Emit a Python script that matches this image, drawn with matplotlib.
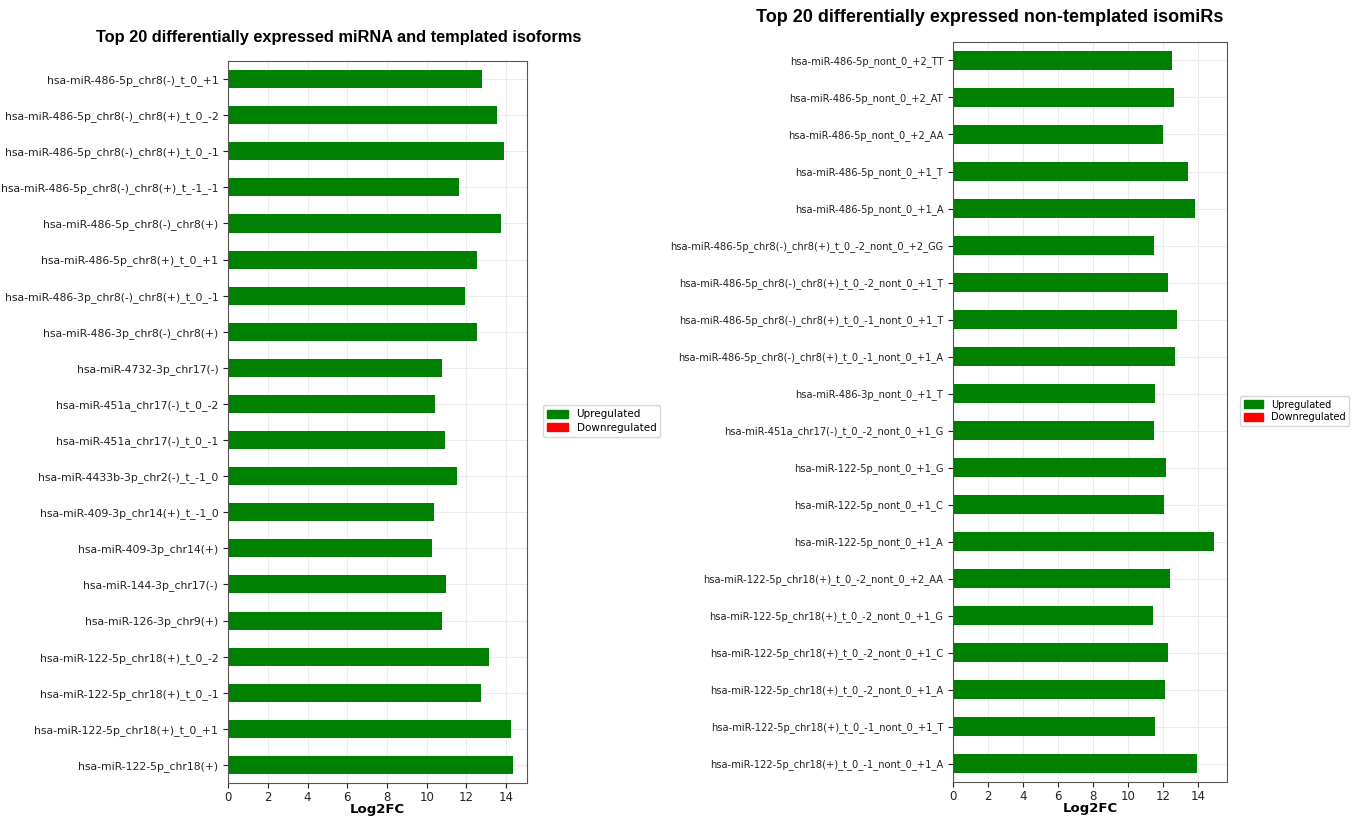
import matplotlib
matplotlib.use('Agg')
import matplotlib.pyplot as plt
from matplotlib.patches import Patch

# left panel, listed top to bottom as in the picture
left_labels = [
    'hsa-miR-486-5p_chr8(-)_t_0_+1',
    'hsa-miR-486-5p_chr8(-)_chr8(+)_t_0_-2',
    'hsa-miR-486-5p_chr8(-)_chr8(+)_t_0_-1',
    'hsa-miR-486-5p_chr8(-)_chr8(+)_t_-1_-1',
    'hsa-miR-486-5p_chr8(-)_chr8(+)',
    'hsa-miR-486-5p_chr8(+)_t_0_+1',
    'hsa-miR-486-3p_chr8(-)_chr8(+)_t_0_-1',
    'hsa-miR-486-3p_chr8(-)_chr8(+)',
    'hsa-miR-4732-3p_chr17(-)',
    'hsa-miR-451a_chr17(-)_t_0_-2',
    'hsa-miR-451a_chr17(-)_t_0_-1',
    'hsa-miR-4433b-3p_chr2(-)_t_-1_0',
    'hsa-miR-409-3p_chr14(+)_t_-1_0',
    'hsa-miR-409-3p_chr14(+)',
    'hsa-miR-144-3p_chr17(-)',
    'hsa-miR-126-3p_chr9(+)',
    'hsa-miR-122-5p_chr18(+)_t_0_-2',
    'hsa-miR-122-5p_chr18(+)_t_0_-1',
    'hsa-miR-122-5p_chr18(+)_t_0_+1',
    'hsa-miR-122-5p_chr18(+)',
]
left_values = [12.80, 13.55, 13.87, 11.60, 13.75, 12.54, 11.92, 12.54, 10.78, 10.42,
               10.90, 11.50, 10.35, 10.26, 10.99, 10.76, 13.15, 12.75, 14.24, 14.33]

# right panel, top to bottom
right_labels = [
    'hsa-miR-486-5p_nont_0_+2_TT',
    'hsa-miR-486-5p_nont_0_+2_AT',
    'hsa-miR-486-5p_nont_0_+2_AA',
    'hsa-miR-486-5p_nont_0_+1_T',
    'hsa-miR-486-5p_nont_0_+1_A',
    'hsa-miR-486-5p_chr8(-)_chr8(+)_t_0_-2_nont_0_+2_GG',
    'hsa-miR-486-5p_chr8(-)_chr8(+)_t_0_-2_nont_0_+1_T',
    'hsa-miR-486-5p_chr8(-)_chr8(+)_t_0_-1_nont_0_+1_T',
    'hsa-miR-486-5p_chr8(-)_chr8(+)_t_0_-1_nont_0_+1_A',
    'hsa-miR-486-3p_nont_0_+1_T',
    'hsa-miR-451a_chr17(-)_t_0_-2_nont_0_+1_G',
    'hsa-miR-122-5p_nont_0_+1_G',
    'hsa-miR-122-5p_nont_0_+1_C',
    'hsa-miR-122-5p_nont_0_+1_A',
    'hsa-miR-122-5p_chr18(+)_t_0_-2_nont_0_+2_AA',
    'hsa-miR-122-5p_chr18(+)_t_0_-2_nont_0_+1_G',
    'hsa-miR-122-5p_chr18(+)_t_0_-2_nont_0_+1_C',
    'hsa-miR-122-5p_chr18(+)_t_0_-2_nont_0_+1_A',
    'hsa-miR-122-5p_chr18(+)_t_0_-1_nont_0_+1_T',
    'hsa-miR-122-5p_chr18(+)_t_0_-1_nont_0_+1_A',
]
right_values = [12.48, 12.58, 11.97, 13.42, 13.82, 11.49, 12.25, 12.76, 12.66, 11.54,
                11.46, 12.17, 12.05, 14.89, 12.38, 11.38, 12.27, 12.12, 11.54, 13.93]

legend_names = ['Upregulated', 'Downregulated']
legend_colors = ['green', 'red']

fig = plt.figure(figsize=(13.58, 8.17), dpi=100)


def panel(rect, labels, values, fs):
    ax = fig.add_axes(rect)
    ax.barh(labels[::-1], values[::-1], height=0.5, color='green', zorder=2)
    ax.set_ylim(-0.5, len(labels) - 0.5)
    ax.set_xticks(range(0, 16, 2))
    ax.grid(True, color='#ebebeb', linewidth=0.8, zorder=0)
    ax.tick_params(axis='y', labelsize=fs, colors='#222222')
    ax.tick_params(axis='x', labelsize=8.5, colors='#222222', pad=2.5)
    for s in ax.spines.values():
        s.set_color('#555555')
    ax.set_xlabel('Log2FC', fontsize=9.5, fontweight='bold', labelpad=-1)
    return ax


ax1 = panel([0.1679, 0.0416, 0.2202, 0.8837], left_labels, left_values, 7.8)
ax2 = panel([0.7018, 0.0428, 0.2018, 0.9058], right_labels, right_values, 7.1)

fig.text(0.2496, 0.9535, 'Top 20 differentially expressed miRNA and templated isoforms',
         ha='center', va='center', fontsize=11.75, fontweight='bold', family='Liberation Sans')
fig.text(0.729, 0.978, 'Top 20 differentially expressed non-templated isomiRs',
         ha='center', va='center', fontsize=13, fontweight='bold', family='Liberation Sans')

handles = [Patch(color=c, label=n) for n, c in zip(legend_names, legend_colors)]
fig.legend(handles=handles, loc='center left', bbox_to_anchor=(538 / 1358, 1 - 421 / 817),
           fontsize=7.5, handlelength=2, handleheight=0.9, borderpad=0.4, labelspacing=0.3)
fig.legend(handles=handles, loc='center left', bbox_to_anchor=(1235 / 1358, 1 - 411 / 817),
           fontsize=7, handlelength=2, handleheight=0.9, borderpad=0.4, labelspacing=0.3)

fig.savefig('out.png', dpi=100)
